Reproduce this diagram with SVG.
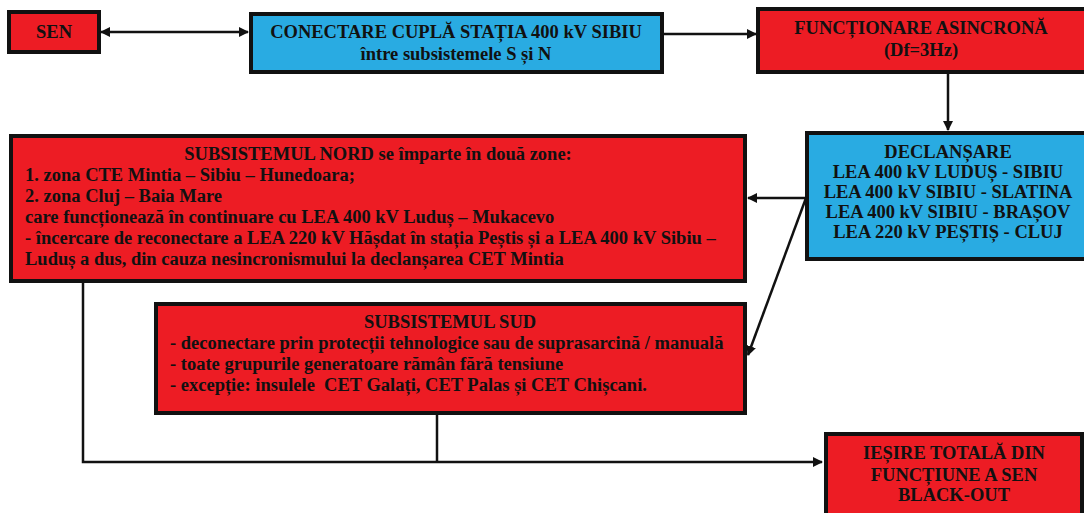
<svg xmlns="http://www.w3.org/2000/svg" width="1084" height="513" viewBox="0 0 1084 513">
<defs>
<style>
.red{fill:#ED1C24;stroke:#111;stroke-width:4}
.blue{fill:#29ABE2;stroke:#111;stroke-width:4}
text{font-family:"Liberation Serif","Times New Roman",serif;font-weight:bold;font-size:18.5px;fill:#111}
.c{text-anchor:middle}
.ln{fill:none;stroke:#111;stroke-width:2.5}
</style>
<marker id="ah" markerWidth="10" markerHeight="10" refX="9" refY="5" orient="auto" markerUnits="userSpaceOnUse">
<path d="M0,0 L10,5 L0,10 Z" fill="#111"/>
</marker>
<marker id="ahs" markerWidth="10" markerHeight="10" refX="1" refY="5" orient="auto" markerUnits="userSpaceOnUse">
<path d="M10,0 L0,5 L10,10 Z" fill="#111"/>
</marker>
</defs>
<rect width="1084" height="513" fill="#fff"/>
<g id="connectors">
<line class="ln" x1="101" y1="32" x2="248" y2="32" marker-start="url(#ahs)" marker-end="url(#ah)"/>
<line class="ln" x1="663" y1="34" x2="756" y2="34" marker-end="url(#ah)"/>
<line class="ln" x1="948" y1="73" x2="948" y2="130" marker-end="url(#ah)"/>
<line class="ln" x1="806" y1="198" x2="748" y2="198" marker-end="url(#ah)"/>
<line class="ln" x1="806" y1="198" x2="748" y2="355" marker-end="url(#ah)"/>
<polyline class="ln" points="83,282 83,462 822,462" marker-end="url(#ah)"/>
<line class="ln" x1="437" y1="415" x2="437" y2="462"/>
</g>
<g id="sen">
<rect class="red" x="9" y="12" width="90" height="40"/>
<text class="c" x="54" y="38">SEN</text>
</g>
<g id="conectare">
<rect class="blue" x="251" y="14" width="411" height="58"/>
<text class="c" x="456" y="38">CONECTARE CUPLĂ STAȚIA 400 kV SIBIU</text>
<text class="c" x="456" y="60">între subsistemele S și N</text>
</g>
<g id="functionare">
<rect class="red" x="758" y="9" width="330" height="63"/>
<text class="c" x="921" y="34">FUNCȚIONARE ASINCRONĂ</text>
<text class="c" x="921" y="56">(Df=3Hz)</text>
</g>
<g id="declansare">
<rect class="blue" x="807" y="133" width="285" height="126"/>
<text class="c" x="948" y="158">DECLANȘARE</text>
<text class="c" x="948" y="178">LEA 400 kV LUDUȘ - SIBIU</text>
<text class="c" x="948" y="198">LEA 400 kV SIBIU - SLATINA</text>
<text class="c" x="948" y="218">LEA 400 kV SIBIU - BRAȘOV</text>
<text class="c" x="948" y="238">LEA 220 kV PEȘTIȘ - CLUJ</text>
</g>
<g id="nord">
<rect class="red" x="11" y="136" width="734" height="145"/>
<text class="c" x="378" y="160">SUBSISTEMUL NORD se împarte în două zone:</text>
<text x="25" y="181">1. zona CTE Mintia – Sibiu – Hunedoara;</text>
<text x="25" y="202">2. zona Cluj – Baia Mare</text>
<text x="25" y="223">care funcționează în continuare cu LEA 400 kV Luduș – Mukacevo</text>
<text x="25" y="244">- încercare de reconectare a LEA 220 kV Hășdat în stația Peștis și a LEA 400 kV Sibiu –</text>
<text x="25" y="265">Luduș a dus, din cauza nesincronismului la declanșarea CET Mintia</text>
</g>
<g id="sud">
<rect class="red" x="156" y="304" width="589" height="109"/>
<text class="c" x="450" y="328">SUBSISTEMUL SUD</text>
<text x="170" y="349">- deconectare prin protecții tehnologice sau de suprasarcină / manuală</text>
<text x="170" y="370">- toate grupurile generatoare rămân fără tensiune</text>
<text x="170" y="391">- excepție: insulele&#160; CET Galați, CET Palas și CET Chișcani.</text>
</g>
<g id="iesire">
<rect class="red" x="826" y="434" width="256" height="82"/>
<text class="c" x="954" y="459">IEȘIRE TOTALĂ DIN</text>
<text class="c" x="954" y="481">FUNCȚIUNE A SEN</text>
<text class="c" x="954" y="501">BLACK-OUT</text>
</g>
</svg>
